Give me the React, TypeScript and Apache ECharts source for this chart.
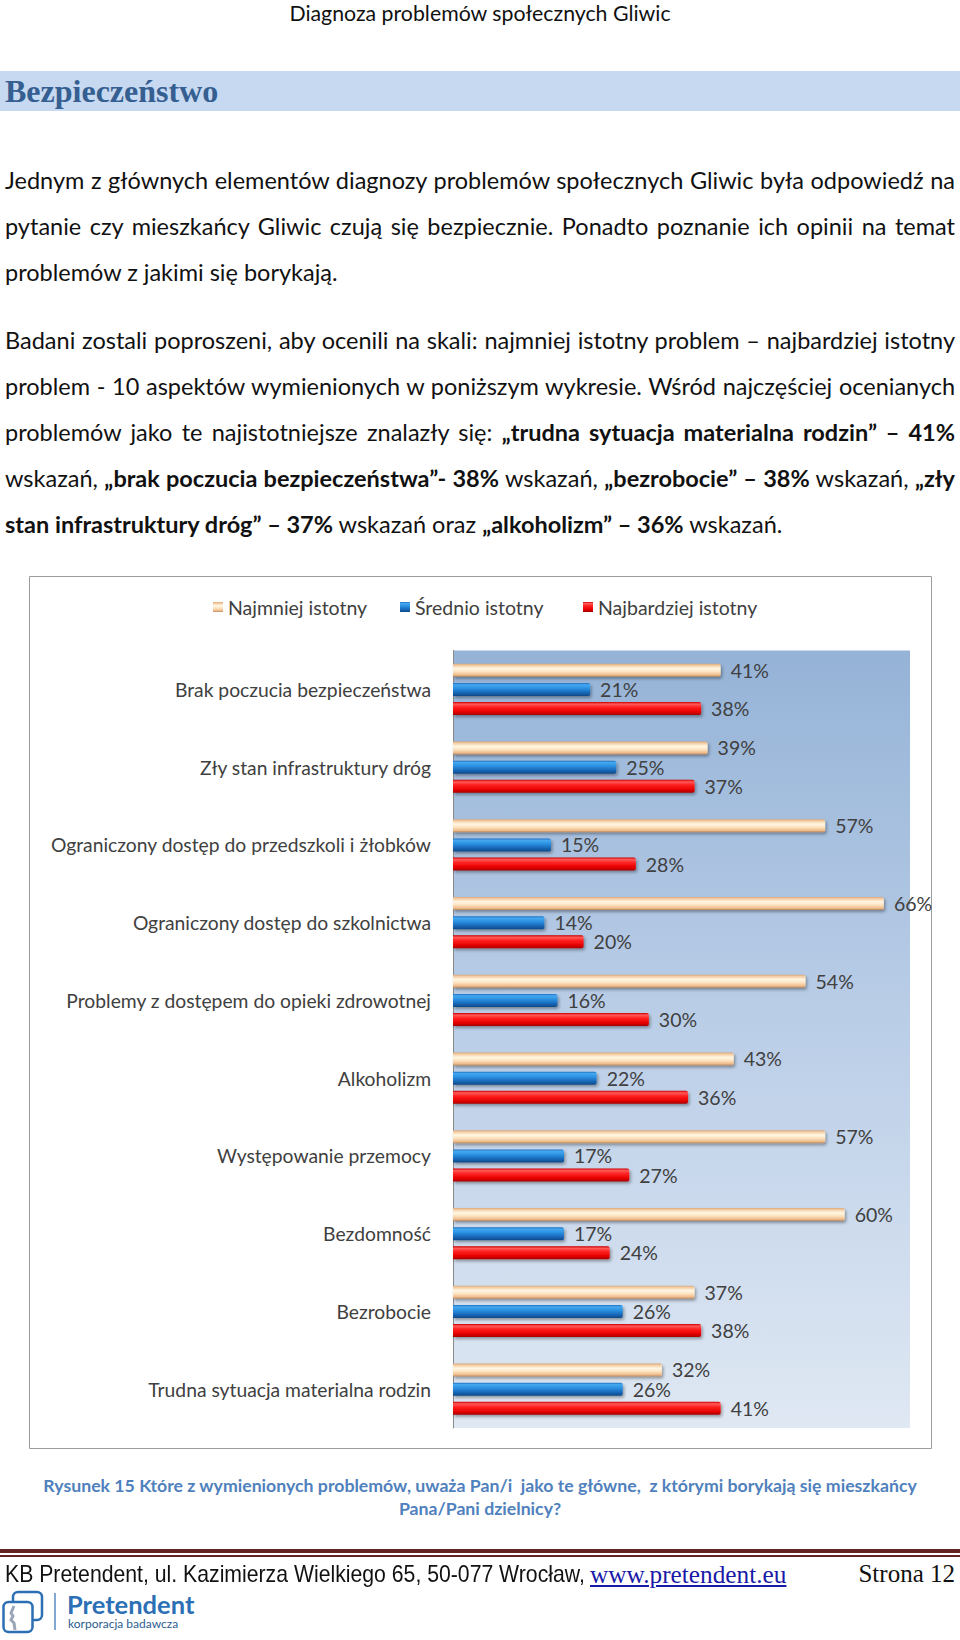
import React, { useEffect, useRef } from 'react';
import * as echarts from 'echarts';

const categories = [
  'Brak poczucia bezpieczeństwa',
  'Zły stan infrastruktury dróg',
  'Ograniczony dostęp do przedszkoli i żłobków',
  'Ograniczony dostęp do szkolnictwa',
  'Problemy z dostępem do opieki zdrowotnej',
  'Alkoholizm',
  'Występowanie przemocy',
  'Bezdomność',
  'Bezrobocie',
  'Trudna sytuacja materialna rodzin',
];
const seriesNames = ['Najmniej istotny', 'Średnio istotny', 'Najbardziej istotny'];
const leastImportant = [41, 39, 57, 66, 54, 43, 57, 60, 37, 32];
const mediumImportant = [21, 25, 15, 14, 16, 22, 17, 17, 26, 26];
const mostImportant = [38, 37, 28, 20, 30, 36, 27, 24, 38, 41];
const axisMax = 70;
const legendLefts = [184, 371, 554];

const FONT = 'Lato, "Open Sans", sans-serif';

type Seg = [string, boolean];
const para1: Seg[][] = [
  [['Jednym z głównych elementów diagnozy problemów społecznych Gliwic była odpowiedź na', false]],
  [['pytanie czy mieszkańcy Gliwic czują się bezpiecznie. Ponadto poznanie ich opinii na temat', false]],
  [['problemów z jakimi się borykają.', false]],
];
const para2: Seg[][] = [
  [['Badani zostali poproszeni, aby ocenili na skali: najmniej istotny problem – najbardziej istotny', false]],
  [['problem - 10 aspektów wymienionych w poniższym wykresie. Wśród najczęściej ocenianych', false]],
  [
    ['problemów jako te najistotniejsze znalazły się: ', false],
    ['„trudna sytuacja materialna rodzin” – 41%', true],
  ],
  [
    ['wskazań, ', false],
    ['„brak poczucia bezpieczeństwa”- 38%', true],
    [' wskazań, ', false],
    ['„bezrobocie” – 38%', true],
    [' wskazań, ', false],
    ['„zły', true],
  ],
  [
    ['stan infrastruktury dróg” – 37%', true],
    [' wskazań oraz ', false],
    ['„alkoholizm” – 36%', true],
    [' wskazań.', false],
  ],
];
const para1Y = [180, 226, 272];
const para2Y = [340, 386, 432, 478, 524];

function grad(stops: [number, string][]) {
  return new echarts.graphic.LinearGradient(
    0, 0, 0, 1,
    stops.map(([offset, color]) => ({ offset, color }))
  );
}

const seriesColors = [
  grad([[0, '#d9a67a'], [0.15, '#f5cfa6'], [0.38, '#fff7e4'], [0.62, '#fde3c0'], [0.88, '#eeba8a'], [1, '#b58860']]),
  grad([[0, '#1d6dbd'], [0.15, '#45a8f0'], [0.4, '#2c92e2'], [0.72, '#1a6bbd'], [1, '#0e4a88']]),
  grad([[0, '#d00000'], [0.15, '#ff5a5a'], [0.4, '#ff1f1f'], [0.75, '#e60000'], [1, '#a20000']]),
];

function Line({ segs, y, last }: { segs: Seg[]; y: number; last: boolean }) {
  return (
    <div
      style={{
        position: 'absolute',
        left: 5,
        width: 950,
        top: y - 15,
        height: 30,
        lineHeight: '30px',
        fontFamily: FONT,
        fontSize: 23.5,
        color: '#111',
        textAlign: last ? 'left' : 'justify',
        textAlignLast: last ? 'left' : 'justify',
      } as React.CSSProperties}
    >
      {segs.map(([t, b], i) => (
        <span key={i} style={{ fontWeight: b ? 700 : 400 }}>{t}</span>
      ))}
    </div>
  );
}

function Chart() {
  const ref = useRef<HTMLDivElement>(null);
  useEffect(() => {
    if (!ref.current) return;
    const chart = echarts.init(ref.current, undefined, { renderer: 'svg' });
    const values = [leastImportant, mediumImportant, mostImportant];
    chart.setOption({
      animation: false,
      backgroundColor: '#ffffff',
      graphic: [
        {
          type: 'rect',
          shape: { x: 0.5, y: 0.5, width: 902, height: 872 },
          style: { fill: 'none', stroke: '#9c9c9c', lineWidth: 1 },
          silent: true,
        },
      ],
      legend: seriesNames.map((name, i) => ({
        left: legendLefts[i],
        top: 21,
        padding: 0,
        itemWidth: 10,
        itemHeight: 10,
        icon: 'rect',
        textStyle: { fontFamily: FONT, fontSize: 19.5, color: '#404040' },
        data: [name],
      })),
      grid: {
        left: 424,
        right: 23,
        top: 74.5,
        bottom: 22,
        show: true,
        borderWidth: 0,
        backgroundColor: grad([[0, '#95b3d7'], [0.5, '#bccfe8'], [1, '#dfe8f3']]),
      },
      xAxis: {
        type: 'value',
        min: 0,
        max: axisMax,
        show: false,
        splitLine: { show: false },
      },
      yAxis: {
        type: 'category',
        inverse: true,
        data: categories,
        axisLine: { show: true, lineStyle: { color: '#8a8a8a', width: 1 } },
        axisTick: { show: false },
        axisLabel: {
          margin: 22,
          fontFamily: FONT,
          fontSize: 19.3,
          color: '#404040',
        },
      },
      series: seriesNames.map((name, i) => ({
        name,
        type: 'bar',
        data: values[i],
        barWidth: 13,
        barGap: '48%',
        itemStyle: {
          color: seriesColors[i],
          borderRadius: [0, 2, 2, 0],
          shadowColor: 'rgba(0,0,0,0.35)',
          shadowBlur: 3,
          shadowOffsetX: 1.5,
          shadowOffsetY: 2,
        },
        label: {
          show: true,
          position: 'right',
          distance: 10,
          formatter: '{c}%',
          fontFamily: FONT,
          fontSize: 19.5,
          color: '#404040',
        },
      })),
    });
    return () => chart.dispose();
  }, []);
  return (
    <div
      ref={ref}
      style={{ position: 'absolute', left: 29, top: 576, width: 904, height: 874 }}
    />
  );
}

export default function App() {
  return (
    <div style={{ position: 'absolute', left: 0, top: 0, width: 960, height: 1640, background: '#fff', overflow: 'hidden' }}>
      <div
        style={{
          position: 'absolute', left: 0, width: 960, top: 0, height: 26, lineHeight: '26px',
          textAlign: 'center', fontFamily: FONT, fontSize: 21.3, color: '#111',
        }}
      >
        Diagnoza problemów społecznych Gliwic
      </div>
      <div
        style={{
          position: 'absolute', left: 0, top: 71, width: 960, height: 40, background: '#c6d9f1',
        }}
      />
      <div
        style={{
          position: 'absolute', left: 5, top: 71, height: 40, lineHeight: '40px',
          fontFamily: '"Liberation Serif", serif', fontWeight: 700, fontSize: 32, color: '#365f91',
        }}
      >
        Bezpieczeństwo
      </div>
      {para1.map((segs, i) => (
        <Line key={'a' + i} segs={segs} y={para1Y[i]} last={i === para1.length - 1} />
      ))}
      {para2.map((segs, i) => (
        <Line key={'b' + i} segs={segs} y={para2Y[i]} last={i === para2.length - 1} />
      ))}
      <Chart />
      <div
        style={{
          position: 'absolute', left: 0, width: 960, top: 1474, lineHeight: '23px',
          textAlign: 'center', fontFamily: FONT, fontWeight: 700, fontSize: 17.7, color: '#4f81bd',
        }}
      >
        <div>Rysunek 15 Które z wymienionych problemów, uważa Pan/i&nbsp; jako te główne,&nbsp; z którymi borykają się mieszkańcy</div>
        <div>Pana/Pani dzielnicy?</div>
      </div>
      <div style={{ position: 'absolute', left: 0, top: 1549, width: 960, height: 4, background: '#632423' }} />
      <div style={{ position: 'absolute', left: 0, top: 1555, width: 960, height: 1.5, background: '#632423' }} />
      <div
        style={{
          position: 'absolute', left: 5, top: 1560, height: 28, lineHeight: '28px', whiteSpace: 'nowrap',
          fontFamily: '"Liberation Sans", Arial, sans-serif', fontSize: 24, color: '#111',
          transform: 'scaleX(0.884)', transformOrigin: 'left center',
        }}
      >
        KB Pretendent, ul. Kazimierza Wielkiego 65, 50-077 Wrocław,
      </div>
      <div
        style={{
          position: 'absolute', left: 590, top: 1560, height: 28, lineHeight: '28px', whiteSpace: 'nowrap',
          fontFamily: '"Liberation Serif", serif', fontSize: 25.3, color: '#1a1aa8', textDecoration: 'underline',
        }}
      >
        www.pretendent.eu
      </div>
      <div
        style={{
          position: 'absolute', right: 5, top: 1560, height: 28, lineHeight: '28px', whiteSpace: 'nowrap',
          fontFamily: '"Liberation Serif", serif', fontSize: 25, color: '#111',
        }}
      >
        Strona 12
      </div>
      <svg style={{ position: 'absolute', left: 0, top: 1586 }} width={60} height={50}>
        <rect x={13} y={6} width={29} height={28} rx={5} fill="none" stroke="#2c6fb5" strokeWidth={2.5} />
        <rect x={3.5} y={16} width={29} height={30} rx={5} fill="#fff" stroke="#2c6fb5" strokeWidth={2.5} />
        <polyline points="14,20 11,27 13,30 11,34 14,37 15,44" fill="none" stroke="#9aa6b8" strokeWidth={3} />
        <line x1={55} y1={7} x2={55} y2={44} stroke="#2c6fb5" strokeWidth={1.2} />
      </svg>
      <div
        style={{
          position: 'absolute', left: 67, top: 1590, height: 28, lineHeight: '28px', whiteSpace: 'nowrap',
          fontFamily: FONT, fontWeight: 700, fontSize: 25.5, color: '#2c6fb5',
        }}
      >
        Pretendent
      </div>
      <div
        style={{
          position: 'absolute', left: 68, top: 1616, height: 15, lineHeight: '15px', whiteSpace: 'nowrap',
          fontFamily: FONT, fontSize: 12, color: '#2c5d8f',
        }}
      >
        korporacja badawcza
      </div>
    </div>
  );
}
